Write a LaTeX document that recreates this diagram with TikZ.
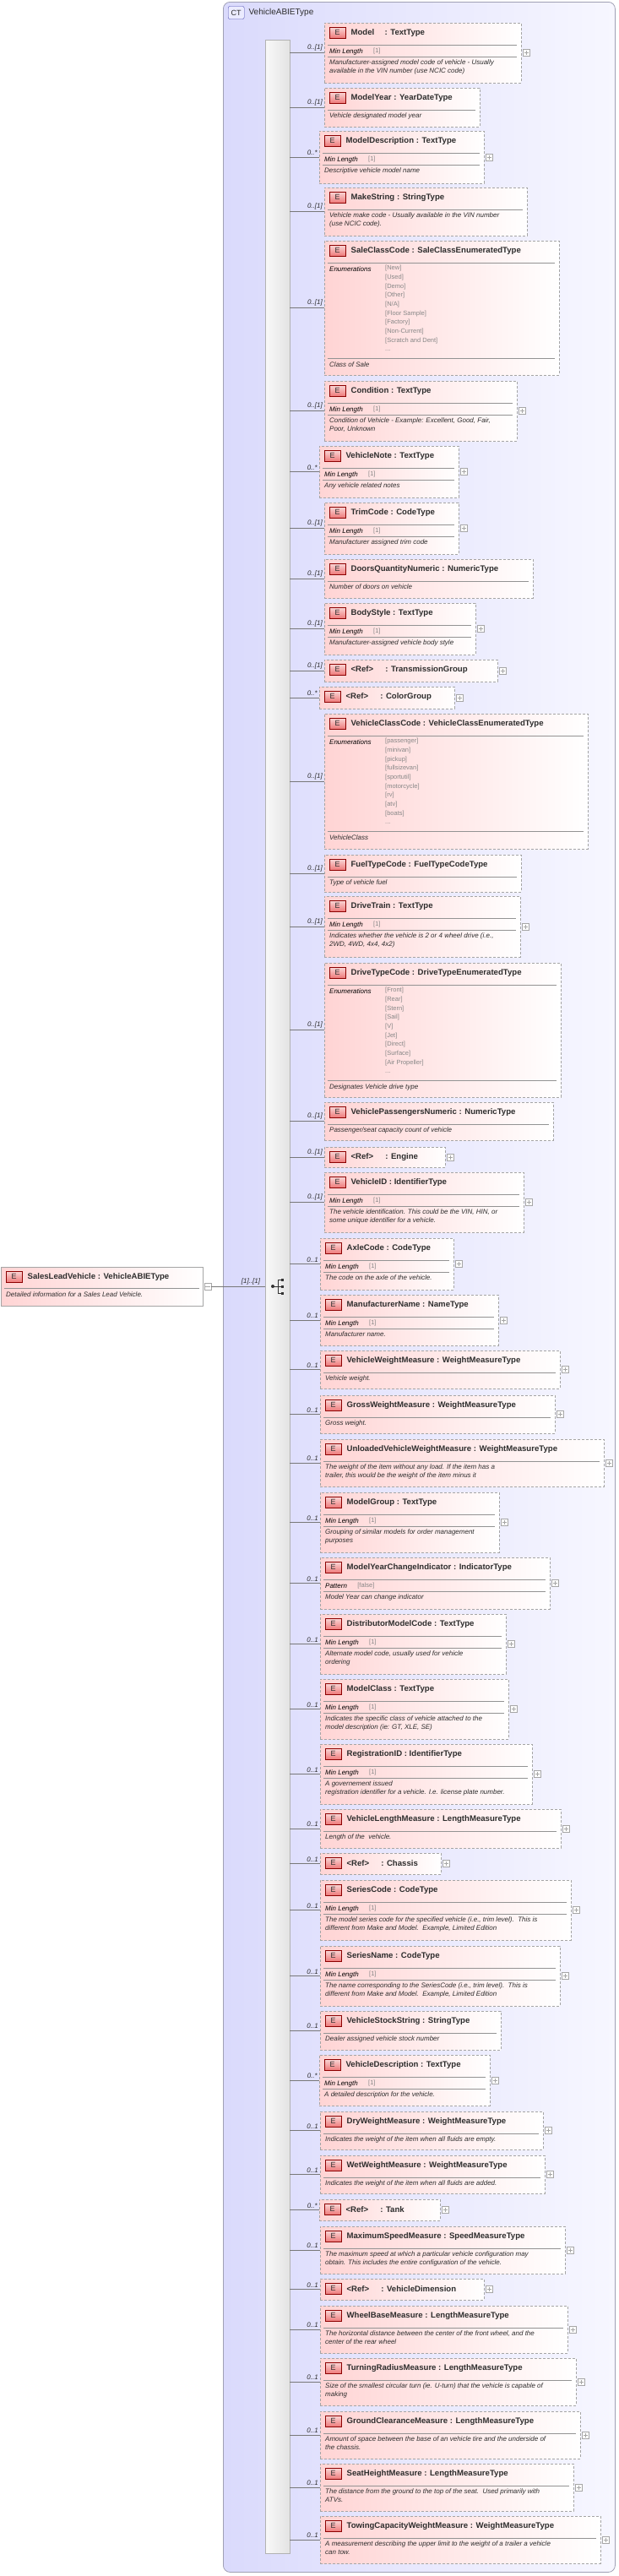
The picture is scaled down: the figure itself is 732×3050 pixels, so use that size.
\documentclass[tikz,border=0pt]{standalone}
\usepackage{fontspec}
\setmainfont{Liberation Sans}
\usetikzlibrary{calc,positioning}

\definecolor{elemfill}{RGB}{255,212,212}
\definecolor{elemborder}{RGB}{165,165,165}
\definecolor{ctfill}{RGB}{218,218,252}
\definecolor{ctfill2}{RGB}{247,247,255}
\definecolor{ctborder}{RGB}{160,160,180}
\definecolor{txt}{RGB}{45,45,45}
\definecolor{enumtxt}{RGB}{135,135,135}
\definecolor{iconred}{RGB}{238,120,120}
\definecolor{linegray}{RGB}{120,120,120}

\tikzset{
  elem/.style={draw=elemborder, line width=0.8pt, dash pattern=on 3pt off 2pt, left color=elemfill, right color=white, inner sep=0pt, outer sep=0pt, anchor=north west},
  eicon/.style={draw=red!55!black, top color=white!70!iconred, bottom color=iconred, minimum width=19pt, minimum height=13pt, inner sep=0pt, font=\fontsize{9}{9}\selectfont, text=txt},
  eltitle/.style={font=\fontsize{9.6}{11}\selectfont\bfseries, text=txt, inner sep=0pt},
  mult/.style={font=\fontsize{8}{9}\selectfont\itshape, text=txt, inner sep=1pt},
  conn/.style={draw=linegray, line width=0.6pt},
  sep/.style={draw=gray!85, line width=0.6pt},
  facetlbl/.style={font=\fontsize{8}{9}\selectfont\itshape, text=black, inner sep=0pt},
  facetval/.style={font=\fontsize{7.5}{9}\selectfont, text=enumtxt, inner sep=0pt},
  desctxt/.style={font=\fontsize{8}{10}\selectfont\itshape, text=txt, inner sep=0pt, align=left},
  enumlist/.style={font=\fontsize{7.5}{10.7}\selectfont, text=enumtxt, inner sep=0pt, align=left},
  plusbox/.style={draw=gray!70, fill=white, minimum size=8pt, inner sep=0pt, path picture={
      \draw[gray!70] ($(path picture bounding box.west)+(1.5pt,0)$) -- ($(path picture bounding box.east)-(1.5pt,0)$);
      \draw[gray!70] ($(path picture bounding box.north)-(0,1.5pt)$) -- ($(path picture bounding box.south)+(0,1.5pt)$);}},
}

% element box: id, x1, y1, x2, y2, multiplicity, title
\newcommand{\elem}[7]{%
  \node[elem, minimum width={#4-#2}, minimum height={#5-#3}] (#1) at (#2,#3) {};
  \node[eicon, anchor=north west] (#1-i) at ($(#1.north west)+(6,5)$) {E};
  \node[eltitle, anchor=west] (#1-t) at ($(#1-i.east)+(6,0)$) {#7};
  \draw[conn] (#1.west -| seq.east) -- (#1.west);
  \node[mult, anchor=south east] (#1-m) at ($(#1.west)+(-1,-1)$) {#6};
}
\newcommand{\titleline}[1]{\draw[sep] ($(#1.north west)+(4,26)$) -- ($(#1.north east)+(-5,26)$);}
\newcommand{\pluson}[1]{\node[plusbox] (#1-p) at ($(#1.east)+(6,0)$) {};}
\newcommand{\facet}[3]{%
  \node[facetlbl, anchor=west] (#1-f) at ($(#1.north west)+(6,34)$) {#2};
  \node[facetval, anchor=west] (#1-v) at ($(#1-f.east)+(12,0)$) {#3};
  \draw[sep] ($(#1.north west)+(4,40)$) -- ($(#1.north east)+(-5,40)$);
}
\newcommand{\desc}[3]{\node[desctxt, anchor=north west] (#1-d) at ($(#1.north west)+(6,#2)$) {#3};}
\newcommand{\enums}[3]{%
  \node[facetlbl, anchor=west] (#1-f) at ($(#1.north west)+(6,34)$) {Enumerations};
  \node[enumlist, anchor=north west] (#1-v) at ($(#1.north west)+(72,29)$) {#2};
  \draw[sep] ($(#1.north west)+(4,139)$) -- ($(#1.north east)+(-5,139)$);
  \node[desctxt, anchor=west] (#1-d) at ($(#1.north west)+(6,147)$) {#3};
}

\begin{document}
\begin{tikzpicture}[x=1pt, y=-1pt]
  \useasboundingbox (0,0) rectangle (732,3050);

  % complex type frame and sequence bar
  \node[draw=ctborder, line width=0.8pt, rounded corners=8pt, left color=ctfill, right color=ctfill2, minimum width=464pt, minimum height=3043pt, anchor=north west, inner sep=0pt] (ct) at (264,2) {};
  \node[draw=blue!40!gray, fill=blue!8, rounded corners=2pt, minimum width=19pt, minimum height=15pt, inner sep=0pt, anchor=west, font=\fontsize{9}{9}\selectfont, text=txt] (ct-i) at (270,15) {CT};
  \node[eltitle, font=\fontsize{10}{12}\selectfont, anchor=west] (ct-t) at ($(ct-i.east)+(5,0)$) {VehicleABIEType};
  \node[draw=gray!60, left color=gray!5, right color=gray!22, minimum width=29pt, minimum height=2976pt, anchor=north west, inner sep=0pt] (seq) at (314,47) {};

  % parent element
  \node[draw=elemborder, line width=0.8pt, left color=elemfill, right color=white, minimum width=239pt, minimum height=46pt, anchor=north west, inner sep=0pt] (slv) at (1,1500) {};
  \node[eicon, anchor=north west] (slv-i) at ($(slv.north west)+(6,5)$) {E};
  \node[eltitle, anchor=west] (slv-t) at ($(slv-i.east)+(6,0)$) {SalesLeadVehicle : VehicleABIEType};
  \draw[sep] ($(slv.north west)+(4,25)$) -- ($(slv.north east)+(-5,25)$);
  \node[desctxt, anchor=west] (slv-d) at ($(slv.north west)+(6,33)$) {Detailed information for a Sales Lead Vehicle.};
  \node[draw=gray!70, fill=white, minimum size=8pt, inner sep=0pt] (slv-p) at ($(slv.east)+(5,0)$) {};
  \draw[gray!70] ($(slv-p.west)+(1.5,0)$) -- ($(slv-p.east)-(1.5,0)$);
  \coordinate (seqdot) at (323,1523);
  \draw[conn] (slv-p.east) -- (seq.west |- slv-p);
  \node[mult, anchor=south] (slv-m) at (297,1522) {[1]..[1]};
  % sequence icon
  \fill[black!80] (seqdot) circle (2);
  \draw[black!80, line width=0.8pt] (seqdot) -- ++(6,0) (329,1515) -- (329,1531);
  \foreach \yy in {1515,1523,1531} {
    \draw[black!80, line width=0.8pt] (329,\yy) -- (334,\yy);
    \fill[black!80] (333,\yy-1.5) rectangle (336,\yy+1.5);
  }

  % children
  \elem{model}{384}{27}{617}{98}{0..[1]}{Model\quad\ : TextType}
  \titleline{model}\pluson{model}\facet{model}{Min Length}{[1]}
  \desc{model}{43}{Manufacturer-assigned model code of vehicle - Usually\\available in the VIN number (use NCIC code)}

  \elem{modelyear}{384}{104}{568}{150}{0..[1]}{ModelYear : YearDateType}
  \titleline{modelyear}\desc{modelyear}{29}{Vehicle designated model year}

  \elem{modeldesc}{378}{155}{573}{217}{0..*}{ModelDescription : TextType}
  \titleline{modeldesc}\pluson{modeldesc}\facet{modeldesc}{Min Length}{[1]}
  \desc{modeldesc}{43}{Descriptive vehicle model name}

  \elem{make}{384}{222}{624}{279}{0..[1]}{MakeString : StringType}
  \titleline{make}\desc{make}{29}{Vehicle make code - Usually available in the VIN number\\(use NCIC code).}

  \elem{saleclass}{384}{285}{662}{444}{0..[1]}{SaleClassCode : SaleClassEnumeratedType}
  \titleline{saleclass}
  \enums{saleclass}{[New]\\{}[Used]\\{}[Demo]\\{}[Other]\\{}[N/A]\\{}[Floor Sample]\\{}[Factory]\\{}[Non-Current]\\{}[Scratch and Dent]\\...}{Class of Sale}

  \elem{condition}{384}{451}{612}{522}{0..[1]}{Condition : TextType}
  \titleline{condition}\pluson{condition}\facet{condition}{Min Length}{[1]}
  \desc{condition}{43}{Condition of Vehicle - Example: Excellent, Good, Fair,\\Poor, Unknown}

  \elem{vnote}{378}{528}{543}{589}{0..*}{VehicleNote : TextType}
  \titleline{vnote}\pluson{vnote}\facet{vnote}{Min Length}{[1]}
  \desc{vnote}{43}{Any vehicle related notes}

  \elem{trim}{384}{595}{543}{656}{0..[1]}{TrimCode : CodeType}
  \titleline{trim}\pluson{trim}\facet{trim}{Min Length}{[1]}
  \desc{trim}{43}{Manufacturer assigned trim code}

  \elem{doors}{384}{662}{631}{708}{0..[1]}{DoorsQuantityNumeric : NumericType}
  \titleline{doors}\desc{doors}{29}{Number of doors on vehicle}

  \elem{body}{384}{714}{563}{775}{0..[1]}{BodyStyle : TextType}
  \titleline{body}\pluson{body}\facet{body}{Min Length}{[1]}
  \desc{body}{43}{Manufacturer-assigned vehicle body style}

  \elem{trans}{384}{781}{589}{807}{0..[1]}{<Ref>\hspace{14pt}: TransmissionGroup}
  \pluson{trans}

  \elem{color}{378}{813}{538}{839}{0..*}{<Ref>\hspace{14pt}: ColorGroup}
  \pluson{color}

  \elem{vclass}{384}{845}{696}{1005}{0..[1]}{VehicleClassCode : VehicleClassEnumeratedType}
  \titleline{vclass}
  \enums{vclass}{[passenger]\\{}[minivan]\\{}[pickup]\\{}[fullsizevan]\\{}[sportutil]\\{}[motorcycle]\\{}[rv]\\{}[atv]\\{}[boats]\\...}{VehicleClass}

  \elem{fuel}{384}{1012}{617}{1056}{0..[1]}{FuelTypeCode : FuelTypeCodeType}
  \titleline{fuel}\desc{fuel}{29}{Type of vehicle fuel}

  \elem{drivetrain}{384}{1061}{616}{1133}{0..[1]}{DriveTrain : TextType}
  \titleline{drivetrain}\pluson{drivetrain}\facet{drivetrain}{Min Length}{[1]}
  \desc{drivetrain}{43}{Indicates whether the vehicle is 2 or 4 wheel drive (i.e.,\\2WD, 4WD, 4x4, 4x2)}

  \elem{drivetype}{384}{1140}{664}{1299}{0..[1]}{DriveTypeCode : DriveTypeEnumeratedType}
  \titleline{drivetype}
  \enums{drivetype}{[Front]\\{}[Rear]\\{}[Stern]\\{}[Sail]\\{}[V]\\{}[Jet]\\{}[Direct]\\{}[Surface]\\{}[Air Propeller]\\...}{Designates Vehicle drive type}

  \elem{passengers}{384}{1305}{655}{1350}{0..[1]}{VehiclePassengersNumeric : NumericType}
  \titleline{passengers}\desc{passengers}{29}{Passenger/seat capacity count of vehicle}

  \elem{engine}{384}{1358}{527}{1382}{0..[1]}{<Ref>\hspace{14pt}: Engine}
  \pluson{engine}

  \elem{vid}{384}{1388}{620}{1459}{0..[1]}{VehicleID : IdentifierType}
  \titleline{vid}\pluson{vid}\facet{vid}{Min Length}{[1]}
  \desc{vid}{43}{The vehicle identification. This could be the VIN, HIN, or\\some unique identifier for a vehicle.}

  \elem{axle}{379}{1466}{537}{1527}{0..1}{AxleCode : CodeType}
  \titleline{axle}\pluson{axle}\facet{axle}{Min Length}{[1]}
  \desc{axle}{43}{The code on the axle of the vehicle.}

  \elem{manuf}{379}{1533}{590}{1593}{0..1}{ManufacturerName : NameType}
  \titleline{manuf}\pluson{manuf}\facet{manuf}{Min Length}{[1]}
  \desc{manuf}{43}{Manufacturer name.}

  \elem{vweight}{379}{1599}{663}{1644}{0..1}{VehicleWeightMeasure : WeightMeasureType}
  \titleline{vweight}\pluson{vweight}\desc{vweight}{29}{Vehicle weight.}

  \elem{gross}{379}{1652}{657}{1697}{0..1}{GrossWeightMeasure : WeightMeasureType}
  \titleline{gross}\pluson{gross}\desc{gross}{29}{Gross weight.}

  \elem{unloaded}{379}{1704}{715}{1760}{0..1}{UnloadedVehicleWeightMeasure : WeightMeasureType}
  \titleline{unloaded}\pluson{unloaded}
  \desc{unloaded}{29}{The weight of the item without any load. If the item has a\\trailer, this would be the weight of the item minus it}

  \elem{modelgroup}{379}{1767}{591}{1838}{0..1}{ModelGroup : TextType}
  \titleline{modelgroup}\pluson{modelgroup}\facet{modelgroup}{Min Length}{[1]}
  \desc{modelgroup}{43}{Grouping of similar models for order management\\purposes}

  \elem{myci}{379}{1844}{651}{1905}{0..1}{ModelYearChangeIndicator : IndicatorType}
  \titleline{myci}\pluson{myci}\facet{myci}{Pattern}{[false]}
  \desc{myci}{43}{Model Year can change indicator}

  \elem{distcode}{379}{1911}{599}{1982}{0..1}{DistributorModelCode : TextType}
  \titleline{distcode}\pluson{distcode}\facet{distcode}{Min Length}{[1]}
  \desc{distcode}{43}{Alternate model code, usually used for vehicle\\ordering}

  \elem{modelclass}{379}{1988}{602}{2059}{0..1}{ModelClass : TextType}
  \titleline{modelclass}\pluson{modelclass}\facet{modelclass}{Min Length}{[1]}
  \desc{modelclass}{43}{Indicates the specific class of vehicle attached to the\\model description (ie: GT, XLE, SE)}

  \elem{regid}{379}{2065}{630}{2136}{0..1}{RegistrationID : IdentifierType}
  \titleline{regid}\pluson{regid}\facet{regid}{Min Length}{[1]}
  \desc{regid}{43}{A governement issued\\registration identifier for a vehicle. I.e. license plate number.}

  \elem{vlength}{379}{2142}{664}{2188}{0..1}{VehicleLengthMeasure : LengthMeasureType}
  \titleline{vlength}\pluson{vlength}\desc{vlength}{29}{Length of the\ \ vehicle.}

  \elem{chassis}{379}{2194}{522}{2219}{0..1}{<Ref>\hspace{14pt}: Chassis}
  \pluson{chassis}

  \elem{seriescode}{379}{2226}{676}{2297}{0..1}{SeriesCode : CodeType}
  \titleline{seriescode}\pluson{seriescode}\facet{seriescode}{Min Length}{[1]}
  \desc{seriescode}{43}{The model series code for the specified vehicle (i.e., trim level).\ \ This is\\different from Make and Model.\ \ Example, Limited Edition}

  \elem{seriesname}{379}{2304}{663}{2375}{0..1}{SeriesName : CodeType}
  \titleline{seriesname}\pluson{seriesname}\facet{seriesname}{Min Length}{[1]}
  \desc{seriesname}{43}{The name corresponding to the SeriesCode (i.e., trim level).\ \ This is\\different from Make and Model.\ \ Example, Limited Edition}

  \elem{stock}{379}{2381}{593}{2427}{0..1}{VehicleStockString : StringType}
  \titleline{stock}\desc{stock}{29}{Dealer assigned vehicle stock number}

  \elem{vdesc}{378}{2433}{580}{2493}{0..*}{VehicleDescription : TextType}
  \titleline{vdesc}\pluson{vdesc}\facet{vdesc}{Min Length}{[1]}
  \desc{vdesc}{43}{A detailed description for the vehicle.}

  \elem{dry}{379}{2500}{643}{2545}{0..1}{DryWeightMeasure : WeightMeasureType}
  \titleline{dry}\pluson{dry}\desc{dry}{29}{Indicates the weight of the item when all fluids are empty.}

  \elem{wet}{379}{2552}{645}{2597}{0..1}{WetWeightMeasure : WeightMeasureType}
  \titleline{wet}\pluson{wet}\desc{wet}{29}{Indicates the weight of the item when all fluids are added.}

  \elem{tank}{378}{2604}{521}{2629}{0..*}{<Ref>\hspace{14pt}: Tank}
  \pluson{tank}

  \elem{maxspeed}{379}{2636}{669}{2692}{0..1}{MaximumSpeedMeasure : SpeedMeasureType}
  \titleline{maxspeed}\pluson{maxspeed}
  \desc{maxspeed}{29}{The maximum speed at which a particular vehicle configuration may\\obtain. This includes the entire configuration of the vehicle.}

  \elem{vdim}{379}{2698}{573}{2723}{0..1}{<Ref>\hspace{14pt}: VehicleDimension}
  \pluson{vdim}

  \elem{wheelbase}{379}{2730}{672}{2786}{0..1}{WheelBaseMeasure : LengthMeasureType}
  \titleline{wheelbase}\pluson{wheelbase}
  \desc{wheelbase}{29}{The horizontal distance between the center of the front wheel, and the\\center of the rear wheel}

  \elem{turning}{379}{2792}{682}{2848}{0..1}{TurningRadiusMeasure : LengthMeasureType}
  \titleline{turning}\pluson{turning}
  \desc{turning}{29}{Size of the smallest circular turn (ie. U-turn) that the vehicle is capable of\\making}

  \elem{ground}{379}{2855}{687}{2911}{0..1}{GroundClearanceMeasure : LengthMeasureType}
  \titleline{ground}\pluson{ground}
  \desc{ground}{29}{Amount of space between the base of an vehicle tire and the underside of\\the chassis.}

  \elem{seat}{379}{2917}{679}{2973}{0..1}{SeatHeightMeasure : LengthMeasureType}
  \titleline{seat}\pluson{seat}
  \desc{seat}{29}{The distance from the ground to the top of the seat.\ \ Used primarily with\\ATVs.}

  \elem{towing}{379}{2979}{711}{3035}{0..1}{TowingCapacityWeightMeasure : WeightMeasureType}
  \titleline{towing}\pluson{towing}
  \desc{towing}{29}{A measurement describing the upper limit to the weight of a trailer a vehicle\\can tow.}
\end{tikzpicture}
\end{document}
